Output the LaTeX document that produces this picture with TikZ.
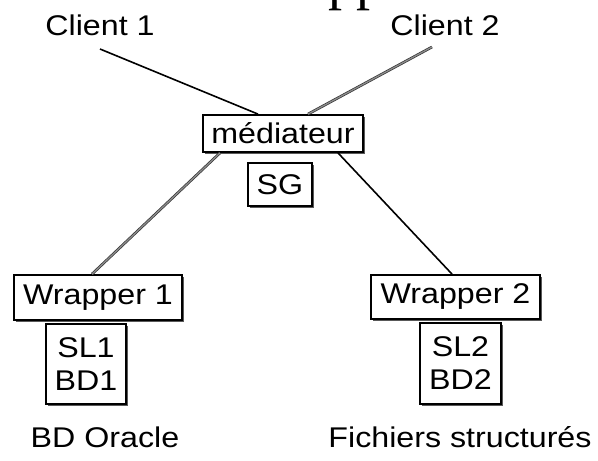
\documentclass[tikz,border=0pt]{standalone}
\usepackage{fontspec}
\setmainfont[FakeStretch=1.13]{Liberation Sans}
\newfontfamily\titlefont[FakeStretch=0.97]{Liberation Serif}
\usetikzlibrary{shadows}
\begin{document}
\begin{tikzpicture}[x=1pt,y=-1pt,
  lbl/.style={font=\fontsize{28.5}{33}\selectfont, inner sep=0pt},
  boxnode/.style={draw=black, line width=1.8pt, fill=white, inner sep=0pt,
    font=\fontsize{28.5}{33}\selectfont, align=center,
    drop shadow={shadow xshift=2pt, shadow yshift=-2pt, fill=black!65, opacity=1}},
  thinlink/.style={line width=1.6pt, black},
  duallink/.style={draw=black!80, line width=0.7pt, double=black!45, double distance=1.3pt}
]
\clip (0,0) rectangle (598,461);
\useasboundingbox (0,0) rectangle (598,461);

% heading above the picture, only its descenders fall inside the frame
\node[font=\titlefont\fontsize{58}{58}\selectfont, anchor=base west, inner sep=0pt] (title) at (328,-1.5) {pp};

% clients
\node[lbl, anchor=base] (c1) at (100,35) {Client 1};
\node[lbl, anchor=base] (c2) at (445,35) {Client 2};
\coordinate (c1end) at (100,49);
\coordinate (c2end) at (432,47);

% mediator and its global schema
\node[boxnode, minimum width=160pt, minimum height=37pt] (med) at (283,133.5) {médiateur};
\node[boxnode, minimum width=64pt, minimum height=43pt] (sg) at (280,184.5) {SG};

% wrappers and their local schemas
\node[boxnode, minimum width=168pt, minimum height=45pt] (w1) at (98,297.5) {Wrapper 1};
\node[boxnode, minimum width=80pt, minimum height=80pt] (s1) at (86,364) {SL1\\BD1};
\node[boxnode, minimum width=169pt, minimum height=44pt] (w2) at (455.5,297) {Wrapper 2};
\node[boxnode, minimum width=81pt, minimum height=81pt] (s2) at (460.5,363.5) {SL2\\BD2};

% sources
\node[lbl, anchor=base] (src1) at (105,447) {BD Oracle};
\node[lbl, anchor=base] (src2) at (460,447) {Fichiers structurés};

% links between clients, mediator and wrappers
\draw[thinlink] (c1end) -- (med.north -| 258,0);
\draw[duallink] (c2end) -- (med.north -| 308,0);
\draw[duallink] (med.south -| 220,0) -- (w1.north -| 92,0);
\draw[thinlink] (med.south -| 338,0) -- (w2.north -| 452,0);
\end{tikzpicture}
\end{document}
